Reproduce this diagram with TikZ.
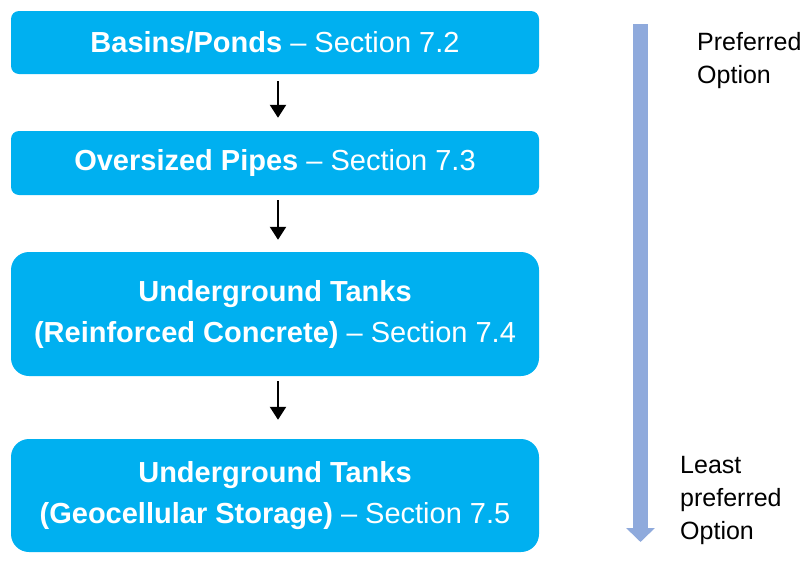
\documentclass[tikz,border=0pt]{standalone}
\usepackage{fontspec}
\setmainfont{Liberation Sans}
\usetikzlibrary{arrows.meta,positioning}
\definecolor{optionblue}{HTML}{00B0F0}
\definecolor{trendblue}{HTML}{8FAADC}
\tikzset{
    option diagram/.style = {x=1pt, y=-1pt},
    option/.style      = {fill=optionblue, text=white, align=center,
                          rounded corners=8pt, minimum width=528pt,
                          inner sep=0pt,
                          font=\fontsize{29}{41}\selectfont},
    tall option/.style = {option, rounded corners=18pt},
    next/.style        = {-{Triangle[length=13pt, width=16pt]},
                          line width=2.2pt},
    trend/.style       = {draw=trendblue, line width=15pt,
                          -{Triangle[length=14pt, width=28pt]}},
    note/.style        = {align=left, anchor=north west, inner sep=0pt,
                          font=\fontsize{25}{33}\selectfont}
}

\begin{document}
\begin{tikzpicture}[option diagram]
\useasboundingbox (0,0) rectangle (809,560);

% ================= Storage options =================
\node[option, minimum height=63pt] (basins) at (275, 42.5)
    {\textbf{Basins/Ponds} -- Section 7.2};
\node[option, minimum height=64pt] (pipes) at (275, 163)
    {\textbf{Oversized Pipes} -- Section 7.3};
\node[tall option, minimum height=124pt] (concrete) at (275, 314)
    {\textbf{Underground Tanks}\\\textbf{(Reinforced Concrete)} -- Section 7.4};
\node[tall option, minimum height=113pt] (geocell) at (275, 495.5)
    {\textbf{Underground Tanks}\\\textbf{(Geocellular Storage)} -- Section 7.5};

% ================= Order of options =================
\draw[next, shorten <=7pt, shorten >=13pt]
    ([xshift=3pt]basins.south) -- ([xshift=3pt]pipes.north);
\draw[next, shorten <=5pt, shorten >=12pt]
    ([xshift=3pt]pipes.south) -- ([xshift=3pt]concrete.north);
\draw[next, shorten <=5pt, shorten >=19pt]
    ([xshift=3pt]concrete.south) -- ([xshift=3pt]geocell.north);

% ================= Preference scale =================
\coordinate (most) at (640.5, 24);
\coordinate (least) at (640.5, 542);
\draw[trend] (most) -- (least);
\node[note] (preferred) at (697, 32) {Preferred\\Option};
\node[note] (lastchoice) at (680, 456) {Least\\preferred\\Option};

\end{tikzpicture}
\end{document}
